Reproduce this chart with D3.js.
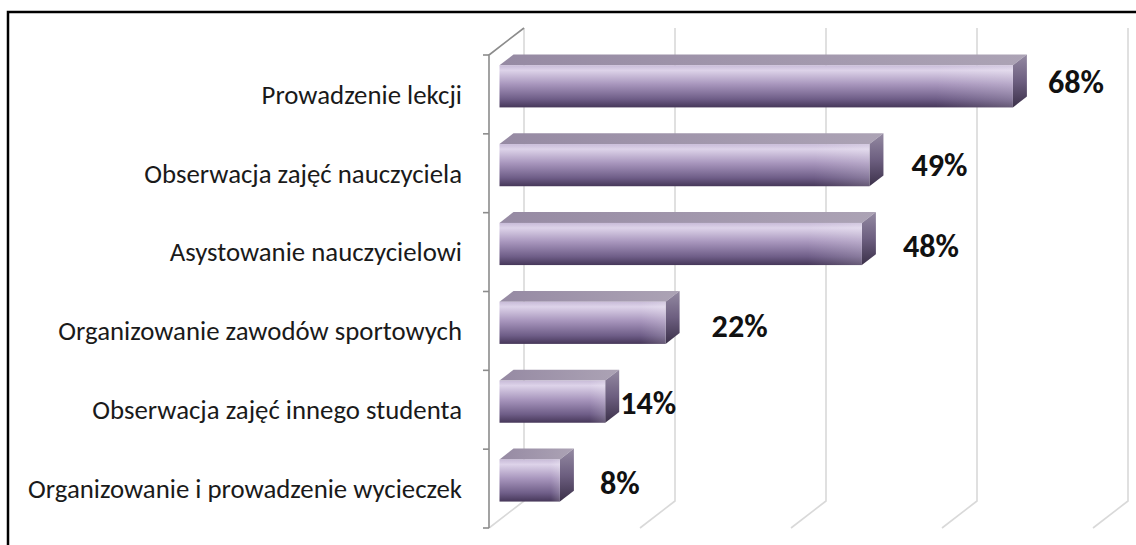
<!DOCTYPE html>
<html>
<head>
<meta charset="utf-8">
<script src="https://cdn.jsdelivr.net/npm/d3@7"></script>
<style>
  html, body { margin: 0; padding: 0; background: #fff; }
  svg { display: block; }
</style>
</head>
<body>
<svg id="chart" width="1136" height="545"></svg>
<script>
// Activities reported, share of respondents (%)
const categories = [
  "Prowadzenie lekcji",
  "Obserwacja zajęć nauczyciela",
  "Asystowanie nauczycielowi",
  "Organizowanie zawodów sportowych",
  "Obserwacja zajęć innego studenta",
  "Organizowanie i prowadzenie wycieczek"
];
const values = [68, 49, 48, 22, 14, 8];
const valueTicks = [0, 20, 40, 60, 80];

const svg = d3.select("#chart");
const W = 1136, H = 545;
const FONT = "Carlito, Calibri, Lato, 'Open Sans', sans-serif";

// Front plane of the 3-D plot box and the depth vector to its back wall
const front = { x: 489, top: 55, bottom: 528 };
const depth = { dx: 35, dy: -27 };

const x = d3.scaleLinear().domain([0, 80]).range([0, 604]);
const y = d3.scaleBand().domain(categories).range([front.top, front.bottom]).padding(0);

// Project (value, y on front plane, depth fraction) to screen
const P = (v, yy, d) => [front.x + x(v) + d * depth.dx, yy + d * depth.dy];

// Border frame
svg.append("rect")
  .attr("x", 8).attr("y", 12).attr("width", 1400).attr("height", 800)
  .attr("fill", "none").attr("stroke", "#000").attr("stroke-width", 2.5);

const defs = svg.append("defs");
const gFront = defs.append("linearGradient").attr("id", "gFront")
  .attr("x1", 0).attr("y1", 0).attr("x2", 0).attr("y2", 1);
[[0, "#c8bbd8"], [0.12, "#ddd3e9"], [0.45, "#a896bd"], [0.8, "#6f5e88"], [1, "#463759"]]
  .forEach(([o, c]) => gFront.append("stop").attr("offset", o).attr("stop-color", c));

const gTop = defs.append("linearGradient").attr("id", "gTop")
  .attr("x1", 0).attr("y1", 0).attr("x2", 1).attr("y2", 0);
[[0, "#968aa3"], [1, "#aca3b5"]]
  .forEach(([o, c]) => gTop.append("stop").attr("offset", o).attr("stop-color", c));

const gSide = defs.append("linearGradient").attr("id", "gSide")
  .attr("x1", 0).attr("y1", 0).attr("x2", 0).attr("y2", 1);
[[0, "#948aa2"], [0.5, "#6d5f80"], [1, "#3b3049"]]
  .forEach(([o, c]) => gSide.append("stop").attr("offset", o).attr("stop-color", c));

const gSheen = defs.append("linearGradient").attr("id", "gSheen")
  .attr("x1", 0).attr("y1", 0).attr("x2", 1).attr("y2", 0);
[[0, "#fff", 0], [0.85, "#fff", 0], [1, "#fff", 0.18]]
  .forEach(([o, c, a]) => gSheen.append("stop").attr("offset", o).attr("stop-color", c).attr("stop-opacity", a));

// Back-wall gridlines with their floor returns
const grid = svg.append("g").attr("fill", "none").attr("stroke", "#d9d9d9").attr("stroke-width", 1.6);
valueTicks.forEach(t => {
  const a = P(t, front.top, 1), b = P(t, front.bottom, 1), c = P(t, front.bottom, 0);
  grid.append("path").attr("d", d3.line()([a, b, c]));
});

// Category axis on the front-left edge, plus side wall top edge
const axis = svg.append("g").attr("fill", "none").attr("stroke", "#8c8c8c").attr("stroke-width", 1.6);
axis.append("path").attr("d", d3.line()([P(0, front.top, 1), P(0, front.top, 0), P(0, front.bottom, 0)]));
const bounds = categories.map(c => y(c)).concat([front.bottom]);
bounds.forEach(b => {
  axis.append("line").attr("x1", front.x - 6).attr("x2", front.x).attr("y1", b).attr("y2", b);
});

// Category labels
const labelSize = 20;
const labels = svg.append("g")
  .attr("font-family", FONT).attr("font-size", labelSize).attr("fill", "#1a1a1a")
  .attr("text-anchor", "end");
labels.selectAll("text").data(categories).join("text")
  .attr("x", 462)
  .attr("y", d => y(d) + y.bandwidth() / 2)
  .attr("dy", "0.35em")
  .text(d => d);
// fit the longest label to its measured width
let widest = 0;
labels.selectAll("text").each(function () { widest = Math.max(widest, this.getComputedTextLength()); });
labels.attr("font-size", labelSize * 434 / widest);

// 3-D bars
const d0 = 0.3, d1 = 0.7, barFrac = 0.535;
const bars = svg.append("g");
categories.forEach((c, i) => {
  const v = values[i];
  const yc = y(c) + y.bandwidth() / 2;
  const h = y.bandwidth() * barFrac;
  const [fx0, fy0] = P(0, yc - h / 2, d0);
  const [fx1] = P(v, yc - h / 2, d0);
  const fy1 = fy0 + h;
  const ddx = (d1 - d0) * depth.dx, ddy = (d1 - d0) * depth.dy;
  const g = bars.append("g");
  g.append("path").attr("fill", "url(#gTop)")
    .attr("d", d3.line()([[fx0, fy0], [fx1, fy0], [fx1 + ddx, fy0 + ddy], [fx0 + ddx, fy0 + ddy]]) + "Z");
  g.append("path").attr("fill", "url(#gSide)")
    .attr("d", d3.line()([[fx1, fy0], [fx1 + ddx, fy0 + ddy], [fx1 + ddx, fy1 + ddy], [fx1, fy1]]) + "Z");
  g.append("rect").attr("x", fx0).attr("y", fy0).attr("width", fx1 - fx0).attr("height", h)
    .attr("fill", "url(#gFront)");
  g.append("rect").attr("x", fx0).attr("y", fy0).attr("width", fx1 - fx0).attr("height", h)
    .attr("fill", "url(#gSheen)");
});

// Value labels, placed past the end of each bar
const labelGap = [21, 28, 27, 32, 1, 26];
const labelLift = [-4.5, 0, 1.5, 2.5, 1.5, 2.5];
const vals = svg.append("g")
  .attr("font-family", FONT).attr("font-weight", "bold").attr("font-size", 26).attr("fill", "#111");
vals.selectAll("text").data(values).join("text")
  .attr("x", (v, i) => P(v, 0, d1)[0] + labelGap[i])
  .attr("y", (v, i) => y(categories[i]) + y.bandwidth() / 2 + d0 * depth.dy + labelLift[i])
  .attr("dy", "0.35em")
  .text(v => v + "%");
const w68 = vals.select("text").node().getComputedTextLength();
vals.attr("font-size", 26 * 56 / w68);
</script>
</body>
</html>
